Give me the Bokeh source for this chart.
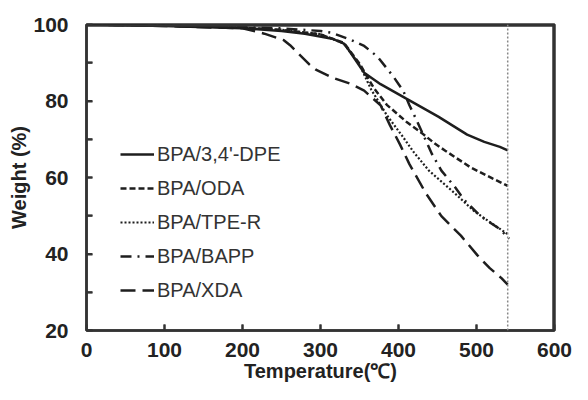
from bokeh.plotting import figure
from bokeh.models import Span, Legend, LegendItem, FixedTicker
from bokeh.embed import file_html
from bokeh.resources import INLINE

# ---- data ----
dpe_t = [0, 100, 200, 250, 280, 315, 330, 336, 356, 377, 410, 451, 470, 488, 510, 530, 540]
dpe_w = [100, 99.6, 99.0, 98.3, 97.6, 96.3, 95.0, 93.4, 87.4, 84.4, 80.6, 75.9, 73.5, 71.2, 69.3, 68.0, 67.1]

oda_t = [0, 100, 200, 250, 300, 330, 350, 368, 385, 410, 430, 447, 460, 492, 521, 540]
oda_w = [100, 99.7, 99.2, 98.6, 97.4, 95.2, 89.8, 83.5, 79.0, 74.6, 71.6, 68.8, 67.0, 62.7, 59.7, 57.8]

tpe_t = [0, 100, 200, 250, 300, 330, 350, 365, 385, 405, 420, 439, 472, 497, 521, 540]
tpe_w = [100, 99.7, 99.2, 98.6, 97.5, 95.0, 89.5, 83.0, 76.3, 70.8, 66.5, 61.8, 55.9, 51.2, 47.8, 45.2]

bapp_t = [0, 100, 200, 250, 300, 315, 340, 356, 373, 393, 406, 414, 422, 443, 455, 472, 484, 505, 530, 542]
bapp_w = [100, 99.7, 99.3, 99.0, 98.3, 97.8, 95.9, 94.4, 91.6, 86.5, 82.7, 78.9, 75.5, 66.1, 61.8, 57.6, 54.2, 49.9, 46.5, 44.0]

xda_t = [0, 100, 200, 228, 253, 261, 286, 294, 315, 340, 356, 377, 389, 402, 414, 435, 455, 480, 501, 517, 532, 540]
xda_w = [100, 99.6, 99.0, 97.6, 95.9, 94.6, 89.5, 88.2, 86.1, 84.4, 82.7, 78.9, 73.7, 68.6, 63.5, 55.9, 49.9, 44.8, 39.7, 36.3, 33.7, 32.0]

series_names = ["BPA/3,4'-DPE", "BPA/ODA", "BPA/TPE-R", "BPA/BAPP", "BPA/XDA"]
end_temp = 540

x_ticks = [0, 100, 200, 300, 400, 500, 600]
y_ticks = [20, 40, 60, 80, 100]
y_minor = [30, 50, 70, 90]

x_lo, x_hi = x_ticks[0], x_ticks[-1]
y_lo, y_hi = y_ticks[0], y_ticks[-1]

p = figure(width=572, height=384, x_range=(x_lo, x_hi), y_range=(y_lo, y_hi),
           output_backend="svg", toolbar_location=None,
           min_border_left=86, min_border_right=18, min_border_top=24, min_border_bottom=50)

xa = p.below[0]
ya = p.left[0]

frame_col = "#333333"
line_col = "#1e1e1e"

r1 = p.line(dpe_t, dpe_w, line_color=line_col, line_width=2.5)
r2 = p.line(oda_t, oda_w, line_color=line_col, line_width=2.5, line_dash="6 3")
r3 = p.line(tpe_t, tpe_w, line_color=line_col, line_width=2.2, line_dash="2 2")
r4 = p.line(bapp_t, bapp_w, line_color=line_col, line_width=2.5, line_dash="11 6 2 6")
r5 = p.line(xda_t, xda_w, line_color=line_col, line_width=2.5, line_dash="15 7")

# inner tick marks and top/right frame edges, drawn as plain glyphs
tick_len_x = 7.5   # in temperature units (~6 px)
tick_len_y = 1.6   # in weight units (~6 px)
yt_all = sorted(y_ticks + y_minor)
p.segment(x0=[x_lo] * len(yt_all), y0=yt_all, x1=[x_lo + tick_len_x] * len(yt_all), y1=yt_all,
          line_color=frame_col, line_width=2)
p.segment(x0=x_ticks, y0=[y_lo] * len(x_ticks), x1=x_ticks, y1=[y_lo + tick_len_y] * len(x_ticks),
          line_color=frame_col, line_width=2)
p.line(x=[x_lo, x_hi, x_hi], y=[y_hi, y_hi, y_lo], line_color=frame_col, line_width=4.5)

p.add_layout(Span(location=end_temp, dimension="height", line_color="#888888",
                  line_width=1.5, line_dash="2 2"))

legend = Legend(items=[LegendItem(label=n, renderers=[r]) for n, r in
                       zip(series_names, [r1, r2, r3, r4, r5])],
                location=(34, 23), orientation="vertical",
                background_fill_color=None, border_line_color=None,
                glyph_width=34, glyph_height=34, label_height=34,
                spacing=0, padding=0, margin=0, label_standoff=3,
                label_text_font_size="20px", label_text_color="#333333")
p.add_layout(legend)

p.grid.visible = True
p.xgrid.grid_line_alpha = 0
p.ygrid.grid_line_alpha = 0
p.outline_line_color = frame_col
p.outline_line_width = 2.5

xa.ticker = FixedTicker(ticks=x_ticks)
ya.ticker = FixedTicker(ticks=y_ticks, minor_ticks=y_minor)

for ax in (xa, ya):
    ax.axis_line_color = frame_col
    ax.axis_line_width = 2.5
    ax.major_tick_in = 6
    ax.major_tick_out = 0
    ax.minor_tick_in = 6
    ax.minor_tick_out = 0
    ax.major_tick_line_color = frame_col
    ax.minor_tick_line_color = frame_col
    ax.major_tick_line_width = 2
    ax.minor_tick_line_width = 2
    ax.major_label_text_font_style = "bold"
    ax.major_label_text_font_size = "21px"
    ax.major_label_text_color = "#222222"
    ax.axis_label_text_font_style = "bold"
    ax.axis_label_text_font_size = "20px"
    ax.axis_label_text_color = "#222222"

xa.axis_label = "Temperature(℃)"
ya.axis_label = "Weight (%)"
xa.major_label_standoff = 12
xa.axis_label_standoff = 0
ya.major_label_standoff = 18
ya.axis_label_standoff = 0

open("out.html", "w").write(file_html(p, INLINE))
